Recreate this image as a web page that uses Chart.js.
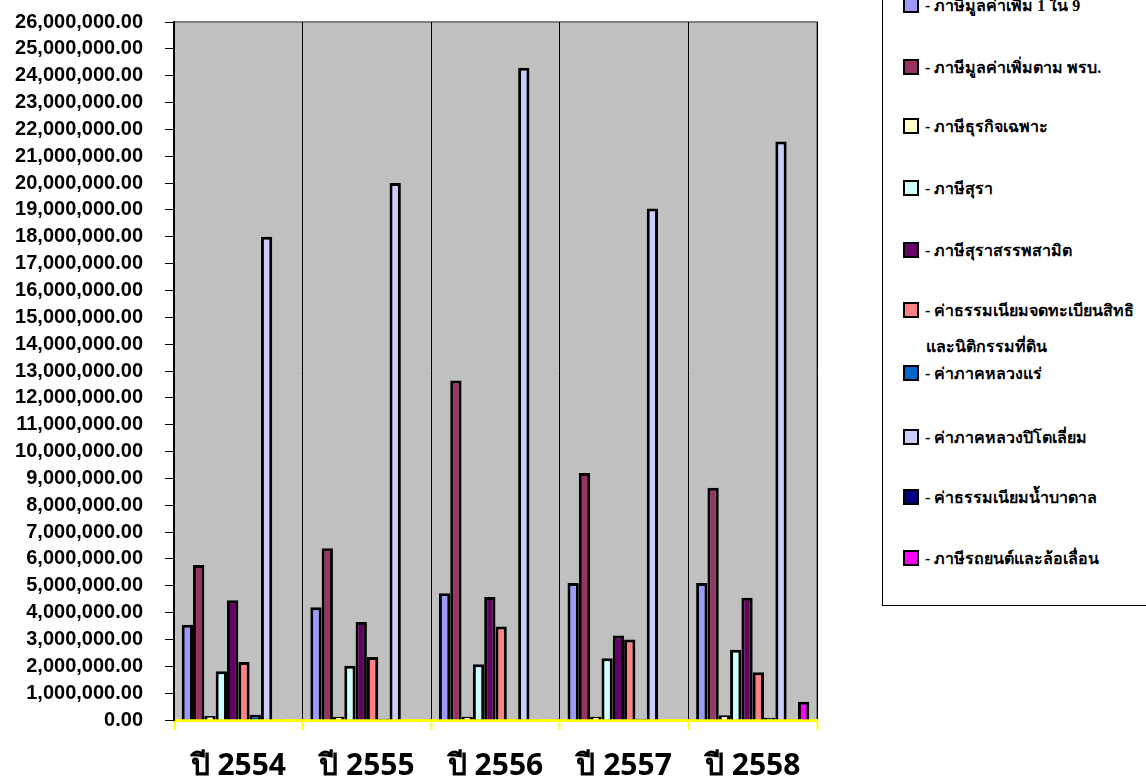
<!DOCTYPE html>
<html>
<head>
<meta charset="utf-8">
<script src="https://cdn.jsdelivr.net/npm/chart.js@4"></script>
<style>
  body { margin: 0; background: #fff; width: 1146px; height: 783px; overflow: hidden; position: relative; }
  #wrap { position: absolute; left: 0; top: -12px; width: 830px; height: 795px; }
  #legend { position: absolute; left: 882px; top: -30px; width: 270px; height: 636px; border: 1px solid #000; box-sizing: border-box; }
  .item { position: absolute; left: 20px; font-family: "Liberation Serif", "Noto Serif", serif; font-weight: bold; font-size: 16px; color: #000; line-height: 36px; white-space: nowrap; }
  .sw { display: inline-block; width: 12px; height: 12px; border: 2px solid #000; vertical-align: -2px; margin-right: 6px; }
  .sub { padding-left: 23px; display: block; }
</style>
</head>
<body>
<div id="wrap"><canvas id="canvas"></canvas></div>
<div id="legend"></div>
<script>
const years = ['ปี 2554', 'ปี 2555', 'ปี 2556', 'ปี 2557', 'ปี 2558']

const seriesNames = [
  'ภาษีมูลค่าเพิ่ม 1 ใน 9',
  'ภาษีมูลค่าเพิ่มตาม พรบ.',
  'ภาษีธุรกิจเฉพาะ',
  'ภาษีสุรา',
  'ภาษีสุราสรรพสามิต',
  'ค่าธรรมเนียมจดทะเบียนสิทธิและนิติกรรมที่ดิน',
  'ค่าภาคหลวงแร่',
  'ค่าภาคหลวงปิโตเลี่ยม',
  'ค่าธรรมเนียมน้ำบาดาล',
  'ภาษีรถยนต์และล้อเลื่อน'
]
const seriesColors = ['#9999FF', '#993366', '#FFFFCC', '#CCFFFF', '#660066',
  '#FF8080', '#0066CC', '#CCCCFF', '#000080', '#FF00FF']

// values per series, one per year (2554..2558)
const vat19     = [3550000, 4200000, 4720000, 5100000, 5100000]
const vatAct    = [5770000, 6400000, 12650000, 9200000, 8650000]
const bizTax    = [150000, 120000, 120000, 120000, 180000]
const liquor    = [1820000, 2020000, 2080000, 2300000, 2620000]
const liquorEx  = [4460000, 3650000, 4580000, 3150000, 4550000]
const landFee   = [2160000, 2350000, 3480000, 3000000, 1780000]
const mineral   = [200000, 50000, 20000, 50000, 80000]
const petroleum = [18000000, 20000000, 24300000, 19050000, 21550000]
const waterFee  = [10000, 20000, 10000, 20000, 30000]
const carTax    = [0, 0, 0, 0, 680000]

const seriesValues = [vat19, vatAct, bizTax, liquor, liquorEx, landFee, mineral, petroleum, waterFee, carTax]
const yTicks = [0, 26000000, 1000000]

const plotBg = {
  id: 'plotBg',
  beforeDraw(chart) {
    const a = chart.chartArea, c = chart.ctx
    c.save()
    c.fillStyle = '#C0C0C0'
    c.fillRect(a.left, a.top, a.right - a.left, a.bottom - a.top)
    c.strokeStyle = '#808080'
    c.lineWidth = 2
    c.beginPath()
    c.moveTo(a.left, a.top); c.lineTo(a.right, a.top); c.lineTo(a.right, a.bottom)
    c.stroke()
    c.restore()
  }
}

const data = {
  labels: years,
  datasets: seriesNames.map((n, i) => ({
    label: n,
    data: seriesValues[i],
    backgroundColor: seriesColors[i],
    borderColor: '#000',
    borderWidth: 3,
    borderSkipped: 'bottom',
    categoryPercentage: 0.88,
    barPercentage: 1.0
  }))
}

const config = {
  type: 'bar',
  data: data,
  plugins: [plotBg],
  options: {
    responsive: true,
    maintainAspectRatio: false,
    animation: false,
    layout: { padding: { top: 10, right: 13 } },
    plugins: { legend: { display: false }, tooltip: { enabled: false } },
    scales: {
      x: {
        grid: {
          color: ctx => ctx.index === 5 ? '#808080' : '#000',
          lineWidth: 1, tickColor: '#FFFF00', tickLength: 10, tickWidth: 2, offset: true
        },
        border: { color: '#FFFF00', width: 3 },
        ticks: { color: '#000', font: { family: 'Noto Sans, DejaVu Sans, sans-serif', size: 30, weight: 'bold' }, padding: 18, maxRotation: 0 },
        afterFit: s => { s.height = 63 }
      },
      y: {
        min: yTicks[0], max: yTicks[1],
        grid: { drawOnChartArea: false, color: '#000', tickLength: 9 },
        border: { color: '#000', width: 2 },
        ticks: {
          stepSize: yTicks[2],
          autoSkip: false,
          color: '#000',
          padding: 22,
          font: { family: 'Liberation Sans, Arial, sans-serif', size: 20, weight: 'bold' },
          callback: v => v.toLocaleString('en-US', { minimumFractionDigits: 2, maximumFractionDigits: 2 })
        },
        afterFit: s => { s.width = 174 }
      }
    }
  }
}

const canvas = document.getElementById('canvas')
const chart = new Chart(canvas, config)

// legend on the right, same order as the bars (row centres in page px)
const legendRows = [5, 67, 126, 188, 250, 310, 373, 437, 497, 558]
const legend = document.getElementById('legend')
seriesNames.forEach((n, i) => {
  const d = document.createElement('div')
  d.className = 'item'
  d.style.top = (legendRows[i] + 12) + 'px'
  if (i === 5) {
    d.innerHTML = '<span class="sw" style="background:' + seriesColors[i] + '"></span>- ค่าธรรมเนียมจดทะเบียนสิทธิ<span class="sub">และนิติกรรมที่ดิน</span>'
  } else {
    d.innerHTML = '<span class="sw" style="background:' + seriesColors[i] + '"></span>- ' + n
  }
  legend.appendChild(d)
})
</script>
</body>
</html>
